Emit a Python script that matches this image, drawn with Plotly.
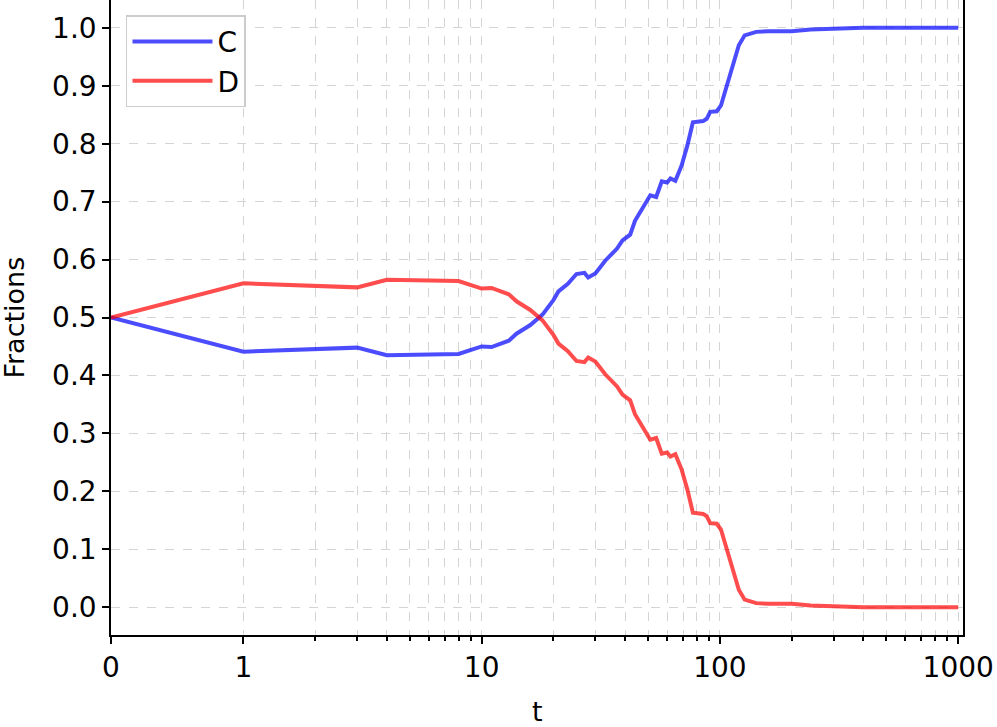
import numpy as np
import plotly.graph_objs as go

# time steps and fractions
t = [0, 1, 3, 4, 8, 10, 11, 13, 14, 15, 16, 18, 20, 21, 23, 25, 27, 28, 30,
     33, 37, 39, 42, 44, 48, 51, 54, 57, 60, 62, 65, 69, 73, 77, 85, 88, 91,
     97, 101, 108, 113, 120, 127, 142, 160, 200, 240, 300, 400, 1000]
frac_c = [0.500, 0.441, 0.448, 0.435, 0.437, 0.450, 0.449, 0.460, 0.472, 0.479,
          0.487, 0.505, 0.530, 0.545, 0.558, 0.575, 0.577, 0.569, 0.576,
          0.598, 0.619, 0.633, 0.643, 0.667, 0.694, 0.711, 0.708, 0.735,
          0.733, 0.740, 0.736, 0.762, 0.797, 0.837, 0.839, 0.843, 0.855,
          0.856, 0.866, 0.906, 0.935, 0.970, 0.987, 0.993, 0.994, 0.994,
          0.997, 0.999, 1.000, 1.000]
frac_d = [0.500, 0.559, 0.552, 0.565, 0.563, 0.550, 0.551, 0.540, 0.528, 0.521,
          0.513, 0.495, 0.470, 0.455, 0.442, 0.425, 0.423, 0.431, 0.424,
          0.402, 0.381, 0.367, 0.357, 0.333, 0.306, 0.289, 0.292, 0.265,
          0.267, 0.260, 0.264, 0.238, 0.203, 0.163, 0.161, 0.157, 0.145,
          0.144, 0.134, 0.094, 0.065, 0.030, 0.013, 0.007, 0.006, 0.006,
          0.003, 0.001, 0.000, 0.000]
major_t = [0, 1, 10, 100, 1000]
minor_t = [m * 10 ** k for k in range(3) for m in range(2, 10)]

LINSCALE = 0.5 / 0.9  # symlog, linthresh=1


def symlog(v):
    v = np.asarray(v, dtype=float)
    out = np.where(v <= 1, v * LINSCALE, LINSCALE + np.log10(np.maximum(v, 1)))
    return out


FONT = "DejaVu Sans"
GRID = "#d4d4d4"

fig = go.Figure()
fig.add_trace(go.Scatter(x=symlog(t), y=frac_c, mode="lines", name="C",
                         line=dict(color="rgba(0,0,255,0.7)", width=4)))
fig.add_trace(go.Scatter(x=symlog(t), y=frac_d, mode="lines", name="D",
                         line=dict(color="rgba(255,0,0,0.7)", width=4)))

fig.update_layout(
    width=997, height=727,
    margin=dict(l=111, r=34, t=0, b=92),
    plot_bgcolor="white", paper_bgcolor="white",
    font=dict(family=FONT, size=28, color="black"),
    legend=dict(x=0.0176, y=0.976, xanchor="left", yanchor="top",
                bgcolor="white", bordercolor="#cccccc", borderwidth=1.5,
                font=dict(size=28), itemwidth=80, tracegroupgap=10),
)
fig.update_xaxes(
    range=[0, 3.5756], automargin=False,
    tickmode="array", tickvals=symlog(major_t), ticktext=[str(v) for v in major_t],
    ticks="outside", ticklen=7, tickwidth=1.5, tickcolor="black",
    showline=True, linecolor="black", linewidth=1.5, mirror=True,
    showgrid=True, gridcolor=GRID, griddash="dash", gridwidth=1,
    zeroline=False,
    minor=dict(tickmode="array", tickvals=symlog(minor_t), ticks="outside",
               ticklen=4, tickcolor="black", showgrid=True, gridcolor=GRID,
               griddash="dash", gridwidth=1),
)
fig.update_yaxes(
    range=[-0.048, 1.048], automargin=False,
    tickmode="array", tickvals=[i / 10 for i in range(11)],
    ticktext=[f"{i / 10:.1f}" for i in range(11)],
    ticks="outside", ticklen=7, tickwidth=1.5, tickcolor="black",
    showline=True, linecolor="black", linewidth=1.5, mirror=True,
    showgrid=True, gridcolor=GRID, griddash="dash", gridwidth=1,
    zeroline=False,
)

# axis titles
fig.add_annotation(text="t", xref="paper", yref="paper", x=0.5, y=-0.121,
                   showarrow=False, xanchor="center", yanchor="middle",
                   font=dict(family=FONT, size=27))
fig.add_annotation(text="Fractions", xref="paper", yref="paper", x=-0.1138,
                   y=0.5, textangle=-90, showarrow=False,
                   xanchor="center", yanchor="middle",
                   font=dict(family=FONT, size=27))

fig.write_html("out.html", config={"displayModeBar": False},
               post_script="document.body.style.margin = '0';")
